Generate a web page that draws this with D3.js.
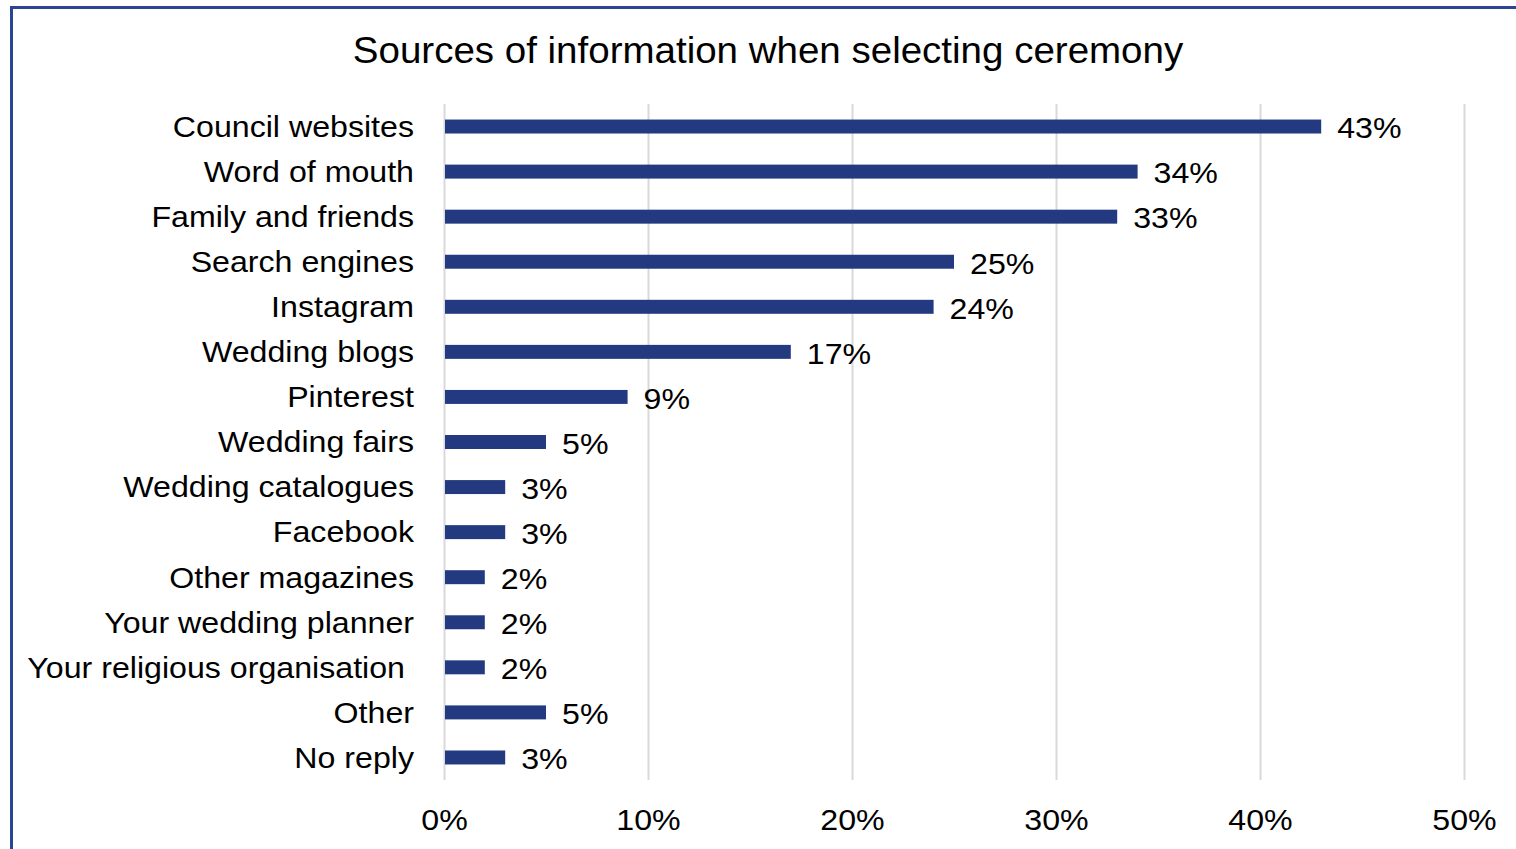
<!DOCTYPE html>
<html>
<head>
<meta charset="utf-8">
<script src="https://cdn.jsdelivr.net/npm/d3@7"></script>
<style>
  html, body { margin: 0; padding: 0; background: #fff; }
  svg { display: block; }
</style>
</head>
<body>
<svg id="chart" width="1516" height="849"></svg>
<script>
// Survey answers: where couples looked for information about the ceremony
const categories = [
  "Council websites", "Word of mouth", "Family and friends", "Search engines",
  "Instagram", "Wedding blogs", "Pinterest", "Wedding fairs",
  "Wedding catalogues", "Facebook", "Other magazines", "Your wedding planner",
  "Your religious organisation", "Other", "No reply"
];
const shares = [43, 34, 33, 25, 24, 17, 9, 5, 3, 3, 2, 2, 2, 5, 3];
const tickValues = [0, 10, 20, 30, 40, 50];
const title = "Sources of information when selecting ceremony";

const W = 1516, H = 849;
const svg = d3.select("#chart");
const font = "Arial, 'Liberation Sans', sans-serif";
const barColor = "#233a80";
const labelSize = 29.5;
const widen = "scale(1.09,1)";

// frame of the chart area
svg.append("path")
  .attr("d", `M11.5,${H} L11.5,7.5 L${W},7.5`)
  .attr("fill", "none")
  .attr("stroke", "#2c4590")
  .attr("stroke-width", 3);

const plot = { left: 444, right: 1464, top: 104, bottom: 780 };

const x = d3.scaleLinear().domain([0, 50]).range([plot.left, plot.right]);
const y = d3.scaleBand().domain(categories)
  .range([plot.top, plot.bottom]).paddingInner(0.69).paddingOuter(0.345);

// vertical gridlines
svg.append("g").selectAll("line").data(tickValues).join("line")
  .attr("x1", d => x(d) + 0.5).attr("x2", d => x(d) + 0.5)
  .attr("y1", plot.top).attr("y2", plot.bottom)
  .attr("stroke", "#d9d9d9").attr("stroke-width", 2);

// x axis labels
const xAxis = d3.axisBottom(x).tickValues(tickValues)
  .tickFormat(d => d + "%").tickSize(0).tickPadding(0);
const gx = svg.append("g").attr("transform", `translate(0,${plot.bottom + 50})`).call(xAxis);
gx.select(".domain").remove();
gx.selectAll("text")
  .attr("dy", 0).attr("y", 0)
  .attr("transform", widen)
  .attr("font-family", font).attr("font-size", labelSize).attr("fill", "#000");

// category labels
const yAxis = d3.axisLeft(y).tickSize(0).tickPadding(0);
const gy = svg.append("g").attr("transform", `translate(414,0)`).call(yAxis);
gy.select(".domain").remove();
gy.selectAll(".tick").attr("transform", d => `translate(${d === "Your religious organisation" ? -9 : 0},${y(d) + y.bandwidth() / 2})`);
gy.selectAll("text")
  .attr("x", 0)
  .attr("dy", "0.35em")
  .attr("transform", widen)
  .attr("font-family", font).attr("font-size", labelSize).attr("fill", "#000");

// bars
const rows = categories.map((c, i) => ({ c, v: shares[i] }));
svg.append("g").selectAll("rect").data(rows).join("rect")
  .attr("x", x(0) + 1)
  .attr("y", d => y(d.c))
  .attr("width", d => x(d.v) - x(0) - 1)
  .attr("height", y.bandwidth())
  .attr("fill", barColor);

// value labels
svg.append("g").selectAll("text").data(rows).join("text")
  .attr("transform", d => `translate(${x(d.v) + 16},${y(d.c) + y.bandwidth() / 2}) ${widen}`)
  .attr("dy", "0.4em")
  .attr("font-family", font).attr("font-size", labelSize).attr("fill", "#000")
  .text(d => d.v + "%");

// title
svg.append("text")
  .attr("transform", "translate(768,63) scale(1.07,1)")
  .attr("text-anchor", "middle")
  .attr("font-family", font).attr("font-size", 36).attr("fill", "#000")
  .text(title);
</script>
</body>
</html>
